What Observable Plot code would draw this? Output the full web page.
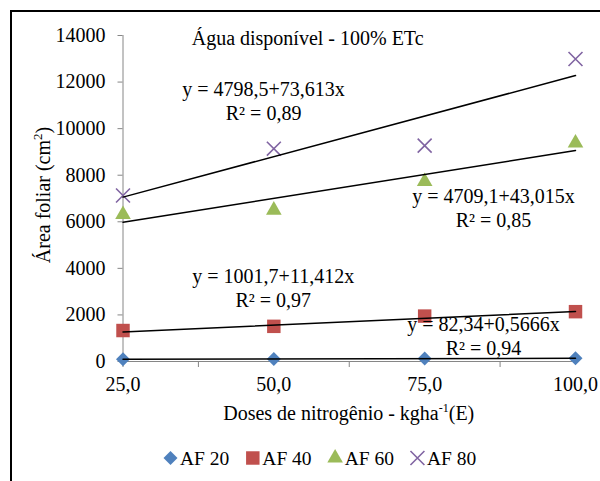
<!DOCTYPE html>
<html><head><meta charset="utf-8">
<script src="https://cdn.jsdelivr.net/npm/d3@7"></script>
<script src="https://cdn.jsdelivr.net/npm/@observablehq/plot@0.6"></script>
<style>
body{margin:0;background:#fff}
#wrap{position:relative;width:600px;height:481px;overflow:hidden;background:#fff}
#frame{position:absolute;left:10px;top:10px;width:600px;height:500px;border-top:2px solid #000;border-left:2px solid #000;box-sizing:border-box}
#chart{position:absolute;left:0;top:0}
#chart svg text{font-family:'Liberation Serif','Times New Roman',serif}
</style></head><body>
<div id="wrap"><div id="frame"></div><div id="chart"></div></div>
<script>
// ---- data ----
const doses = [25, 50, 75, 100];
const seriesNames = ["AF 20", "AF 40", "AF 60", "AF 80"];
const af20 = [100, 110, 125, 140];
const af40 = [1330, 1510, 1950, 2140];
const af60 = [6310, 6500, 7730, 9380];
const af80 = [7130, 9140, 9270, 12990];
// fitted trend values at first and last dose (as drawn)
const trendFirst = [96, 1270, 5980, 7060];
const trendLast = [139, 2150, 9060, 12280];
const equations = [
  "y = 82,34+0,5666x\nR² = 0,94",
  "y = 1001,7+11,412x\nR² = 0,97",
  "y = 4709,1+43,015x\nR² = 0,85",
  "y = 4798,5+73,613x\nR² = 0,89"
];
const yTicks = [0, 2000, 4000, 6000, 8000, 10000, 12000, 14000];
const xTicks = [25, 50, 75, 100];
const xMinorTicks = [25, 37.5, 62.5, 87.5];
const titleText = "Água disponível - 100% ETc";
const xTitle = ["Doses de nitrogênio - kgha", "-1", "(E)"];
const yTitle = ["Área foliar (cm", "2", ")"];

// ---- annotation layout (data coordinates) ----
const eqX = [84.75, 49.9, 86.4, 48.3];
const eqY = [1138, 3199, 6635, 11208];
const titlePos = {x: 55.6, y: 13871};

// ---- styles ----
const colors = ["#4F81BD", "#C0504D", "#9BBB59", "#8064A2"];
const symbols = ["diamond2", "square", "triangle", "times"];
const radii = [6.3, 7.6, 5.8, 6.4];
const font = "'Liberation Serif', 'Times New Roman', serif";

const values = [af20, af40, af60, af80];
const points = seriesNames.flatMap((s, i) => doses.map((d, j) => ({series: s, i, dose: d, area: values[i][j]})));
const trend = seriesNames.flatMap((s, i) => [
  {series: s, dose: doses[0], area: trendFirst[i]},
  {series: s, dose: doses[doses.length - 1], area: trendLast[i]}
]);
const eqData = equations.map((t, i) => ({text: t, x: eqX[i], y: eqY[i]}));

const dotMarks = seriesNames.map((s, i) => {
  const isStroke = symbols[i] === "times";
  return Plot.dot(points.filter(p => p.i === i), {
    x: "dose", y: "area", symbol: symbols[i], r: radii[i],
    fill: isStroke ? "none" : colors[i],
    stroke: isStroke ? colors[i] : "none",
    strokeWidth: isStroke ? 1.6 : 0
  });
});

const chart = Plot.plot({
  width: 600, height: 481,
  marginLeft: 122.5, marginRight: 25, marginTop: 35, marginBottom: 120,
  style: {fontFamily: font, fontSize: "20px", color: "black", background: "transparent"},
  x: {type: "linear", domain: [25, 100]},
  y: {domain: [0, 14000]},
  marks: [
    Plot.ruleX([25], {stroke: "#868686"}),
    Plot.ruleY([0], {stroke: "#868686"}),
    Plot.axisY({ticks: yTicks, tickSize: 5, tickPadding: 12.5, stroke: "#868686", fontFamily: font, fontVariant: "normal", tickFormat: d => String(d), label: null}),
    Plot.axisX({ticks: xTicks, tickSize: 0, tickPadding: 15, fontFamily: font, fontVariant: "normal", tickFormat: d => d.toFixed(1).replace(".", ","), label: null}),
    Plot.axisX({ticks: xMinorTicks, tickSize: 6, stroke: "#868686", tickFormat: () => "", label: null}),
    ...dotMarks,
    Plot.line(trend, {x: "dose", y: "area", z: "series", stroke: "black", strokeWidth: 1.5}),
    Plot.text(eqData, {x: "x", y: "y", text: "text", fill: "black", fontSize: 20, lineHeight: 1.2}),
    Plot.text([titleText], {x: titlePos.x, y: titlePos.y, text: d => d, fill: "black", fontSize: 20})
  ]
});
document.getElementById("chart").appendChild(chart);

// ---- axis titles and legend ----
const sx = chart.scale("x"), sy = chart.scale("y");
const svg = d3.select(chart);
const xMid = (sx.range[0] + sx.range[1]) / 2;
const yMid = (sy.range[0] + sy.range[1]) / 2;

const xt = svg.append("text").attr("x", xMid).attr("y", 420).attr("text-anchor", "middle")
  .attr("font-family", font).attr("font-size", 20).attr("fill", "black");
xt.append("tspan").text(xTitle[0]);
xt.append("tspan").attr("dy", -8).attr("font-size", 12).text(xTitle[1]);
xt.append("tspan").attr("dy", 8).text(xTitle[2]);

const yt = svg.append("text").attr("transform", `translate(50,${yMid - 3}) rotate(-90)`).attr("text-anchor", "middle")
  .attr("font-family", font).attr("font-size", 20).attr("fill", "black");
yt.append("tspan").text(yTitle[0]);
yt.append("tspan").attr("dy", -8).attr("font-size", 13).text(yTitle[1]);
yt.append("tspan").attr("dy", 8).text(yTitle[2]);

const symMap = {diamond2: d3.symbolDiamond2, square: d3.symbolSquare, triangle: d3.symbolTriangle, times: d3.symbolTimes};
const lg = svg.append("g").attr("font-family", font).attr("font-size", 19.5).attr("text-anchor", "start");
let cursor = 163;
seriesNames.forEach((s, i) => {
  const isStroke = symbols[i] === "times";
  lg.append("path")
    .attr("d", d3.symbol(symMap[symbols[i]], radii[i] * radii[i] * Math.PI)())
    .attr("transform", `translate(${cursor + 7.5},458)`)
    .attr("fill", isStroke ? "none" : colors[i])
    .attr("stroke", isStroke ? colors[i] : "none")
    .attr("stroke-width", isStroke ? 1.6 : 0);
  const t = lg.append("text").attr("x", cursor + 17).attr("y", 465).attr("text-anchor", "start").attr("fill", "black").text(s);
  cursor += 17 + t.node().getComputedTextLength() + 16;
});
</script>
</body></html>
